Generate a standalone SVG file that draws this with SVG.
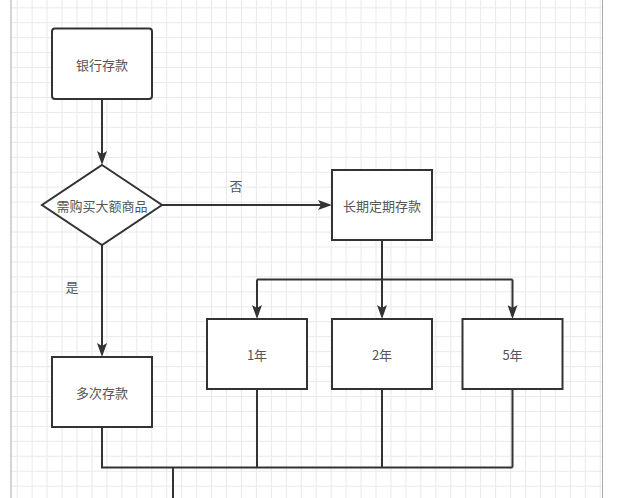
<svg xmlns="http://www.w3.org/2000/svg" width="642" height="498" viewBox="0 0 642 498">
<defs>
<pattern id="grid" x="16.7" y="7.3" width="14.95" height="14.95" patternUnits="userSpaceOnUse">
<path d="M0,0.5 H14.95 M0.5,0 V14.95" fill="none" stroke="#e9e9e9" stroke-width="1"/>
</pattern>
<marker id="arr" viewBox="0 0 14 10" refX="11" refY="5" markerWidth="14" markerHeight="10" markerUnits="userSpaceOnUse" orient="auto">
<path d="M0,0 L14,5 L0,10 L3,5 Z" fill="#333"/>
</marker>
<style>
.node{fill:#fff;stroke:#333;stroke-width:2}
.lbl{font-family:"Noto Sans CJK SC","Microsoft YaHei",sans-serif;font-size:13px;fill:#555;text-anchor:middle;dominant-baseline:central}
.edge{fill:none;stroke:#333;stroke-width:2}
</style>
</defs>
<rect x="0" y="0" width="642" height="498" fill="#fff"/>
<rect x="11" y="0" width="591.5" height="498" fill="url(#grid)"/>
<line x1="11" y1="0" x2="11" y2="498" stroke="#aaa" stroke-width="1"/>
<line x1="602.5" y1="0" x2="602.5" y2="498" stroke="#aaa" stroke-width="1"/>

<g id="connectors">
<path class="edge" d="M102,99 V162" marker-end="url(#arr)"/>
<path class="edge" d="M162,205 H329" marker-end="url(#arr)"/>
<path class="edge" d="M102,245 V354" marker-end="url(#arr)"/>
<path class="edge" d="M382,240 V279.5"/>
<path class="edge" d="M257,279.5 H512.5"/>
<path class="edge" d="M257,279.5 V316" marker-end="url(#arr)"/>
<path class="edge" d="M382,279.5 V316" marker-end="url(#arr)"/>
<path class="edge" d="M512.5,279.5 V316" marker-end="url(#arr)"/>
<path class="edge" d="M102,427 V467.5 H512.5"/>
<path class="edge" d="M257,389 V467.5"/>
<path class="edge" d="M382,389 V467.5"/>
<path class="edge" d="M512.5,389 V467.5"/>
<path class="edge" d="M173,467.5 V498"/>
<text class="lbl" x="236" y="185">否</text>
<text class="lbl" x="72" y="286">是</text>
</g>

<g id="bank">
<rect class="node" x="52" y="28.5" width="100" height="70.5" rx="3"/>
<text class="lbl" x="102" y="64">银行存款</text>
</g>
<g id="decision">
<polygon class="node" points="102,165 162,205 102,245 42,205"/>
<text class="lbl" x="102" y="205">需购买大额商品</text>
</g>
<g id="longterm">
<rect class="node" x="332" y="170" width="100" height="70"/>
<text class="lbl" x="382" y="205">长期定期存款</text>
</g>
<g id="y1">
<rect class="node" x="207" y="319" width="100" height="70"/>
<text class="lbl" x="257" y="354">1年</text>
</g>
<g id="y2">
<rect class="node" x="332" y="319" width="100" height="70"/>
<text class="lbl" x="382" y="354">2年</text>
</g>
<g id="y5">
<rect class="node" x="462.5" y="319" width="100" height="70"/>
<text class="lbl" x="512.5" y="354">5年</text>
</g>
<g id="multi">
<rect class="node" x="52" y="357" width="100" height="70"/>
<text class="lbl" x="102" y="392">多次存款</text>
</g>
</svg>
